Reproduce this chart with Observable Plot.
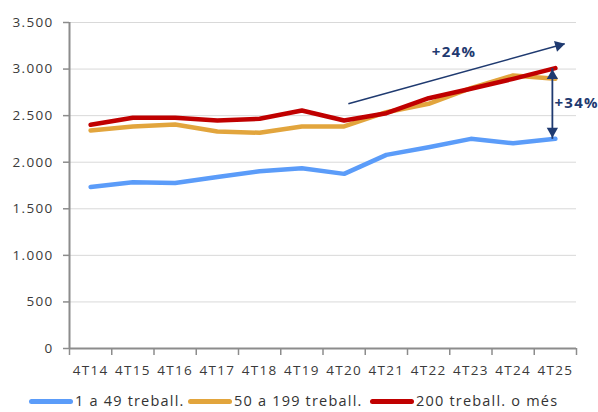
<!DOCTYPE html>
<html>
<head>
<meta charset="utf-8">
<script src="https://cdn.jsdelivr.net/npm/d3@7"></script>
<script src="https://cdn.jsdelivr.net/npm/@observablehq/plot@0.6"></script>
<style>
  html, body { margin: 0; padding: 0; background: #fff; }
  svg { display: block; }
  #legend { position: relative; width: 598px; height: 24px; font-family: "Open Sans", sans-serif; font-size: 14.5px; letter-spacing: 1.2px; color: #333; }
  #legend .item { position: absolute; top: 3px; height: 20px; line-height: 20px; display: flex; align-items: center; white-space: nowrap; }
  #legend .sw { display: inline-block; width: 44px; height: 5px; border-radius: 3px; margin-right: 2px; }
</style>
</head>
<body>
<div id="chart"></div>
<div id="legend"></div>
<script>
const categories = ["4T14","4T15","4T16","4T17","4T18","4T19","4T20","4T21","4T22","4T23","4T24","4T25"];
const small  = [1734, 1786, 1776, 1841, 1904, 1935, 1875, 2079, 2161, 2251, 2204, 2251];
const medium = [2341, 2384, 2405, 2330, 2316, 2384, 2384, 2537, 2627, 2795, 2931, 2895];
const large  = [2402, 2477, 2477, 2448, 2466, 2555, 2448, 2526, 2687, 2788, 2895, 3010];
const seriesNames = ["1 a 49 treball.", "50 a 199 treball.", "200 treball. o més"];
const seriesColors = ["#5b9cf9", "#e2a53d", "#c00000"];
const yTicks = [0, 500, 1000, 1500, 2000, 2500, 3000, 3500];
// annotations
const trendFrom = [6.1, 2627];
const trendTo = [11.22, 3271];
const trendLabel = ["+24%", 8.6, 3178];
const gapLabel = "+34%";

const navy = "#1f3a70";
const fmt = d3.formatLocale({decimal: ",", thousands: ".", grouping: [3], currency: ["", "€"]}).format(",");
const series = [small, medium, large];
const rows = seriesNames.flatMap((name, s) => series[s].map((v, i) => ({i, v, s: name})));
const idx = categories.map((_, i) => i);
const boundaries = d3.range(-0.5, categories.length, 1);
const last = categories.length - 1;
const trend = [{x1: trendFrom[0], y1: trendFrom[1], x2: trendTo[0], y2: trendTo[1]}];
const gap = [{i: last, a: large[last], b: small[last], m: (large[last] + small[last]) / 2}];

const plot = Plot.plot({
  width: 598,
  height: 388,
  marginLeft: 69,
  marginRight: 22,
  marginTop: 22,
  marginBottom: 40,
  x: {type: "linear", domain: [-0.5, categories.length - 0.5]},
  y: {domain: [0, 3500]},
  color: {domain: seriesNames, range: seriesColors},
  style: {fontFamily: "Open Sans, sans-serif", fontSize: "13.5px", color: "#3a3a3a", letterSpacing: "1.3px", background: "#fff"},
  marks: [
    Plot.gridY(yTicks, {stroke: "#d9d9d9", strokeOpacity: 1, strokeWidth: 1}),
    Plot.axisY(yTicks, {tickFormat: fmt, tickSize: 6, tickPadding: 10, stroke: "#8c8c8c", strokeWidth: 1.5, label: null}),
    Plot.axisX(idx, {tickFormat: i => categories[i], tickSize: 0, tickPadding: 17, label: null}),
    Plot.axisX(boundaries, {tickFormat: () => "", tickSize: 7, stroke: "#8c8c8c", strokeWidth: 1.5, label: null}),
    Plot.ruleY([0], {stroke: "#8c8c8c", strokeWidth: 2}),
    Plot.ruleX([-0.5], {stroke: "#8c8c8c", strokeWidth: 2}),
    Plot.line(rows, {x: "i", y: "v", z: "s", stroke: "s", strokeWidth: 4.5, strokeLinejoin: "round", strokeLinecap: "round"}),
    // +24% trend arrow
    Plot.link(trend, {x1: "x1", y1: "y1", x2: "x2", y2: "y2", stroke: navy, strokeWidth: 1.6}),
    Plot.dot(trend, {x: "x2", y: "y2", symbol: "triangle", r: 4.2, fill: navy, stroke: null, rotate: 74.5, dx: -6, dy: 1.7}),
    Plot.text([trendLabel], {x: d => d[1], y: d => d[2], text: d => d[0], fill: navy, fontWeight: "bold", fontSize: 15, letterSpacing: "0.5px"}),
    // +34% gap arrow
    Plot.link(gap, {x1: "i", x2: "i", y1: "a", y2: "b", stroke: navy, strokeWidth: 1.8, dx: -3}),
    Plot.dot(gap, {x: "i", y: "a", symbol: "triangle", r: 4.2, fill: navy, stroke: null, rotate: 0, dx: -3, dy: 7.7}),
    Plot.dot(gap, {x: "i", y: "b", symbol: "triangle", r: 4.2, fill: navy, stroke: null, rotate: 180, dx: -3, dy: -7.7}),
    Plot.text(gap, {x: "i", y: "m", text: () => gapLabel, textAnchor: "start", dx: -1, fill: navy, fontWeight: "bold", fontSize: 15, letterSpacing: "0.5px"})
  ]
});
document.getElementById("chart").appendChild(plot);

const legend = document.getElementById("legend");
const lefts = [29, 188, 370];
seriesNames.forEach((name, k) => {
  const item = document.createElement("div");
  item.className = "item";
  item.style.left = lefts[k] + "px";
  const sw = document.createElement("span");
  sw.className = "sw";
  sw.style.background = seriesColors[k];
  item.appendChild(sw);
  item.appendChild(document.createTextNode(name));
  legend.appendChild(item);
});
</script>
</body>
</html>
